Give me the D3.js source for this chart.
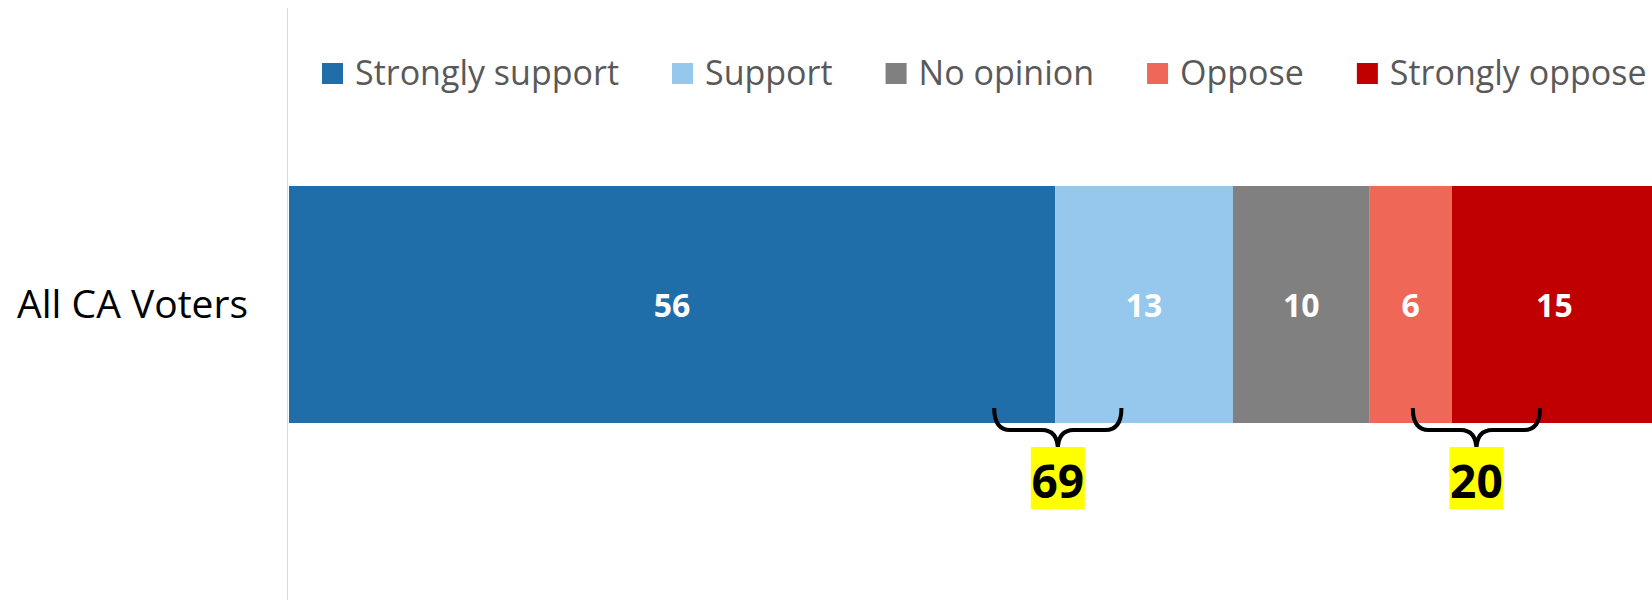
<!DOCTYPE html>
<html>
<head>
<meta charset="utf-8">
<script src="https://cdn.jsdelivr.net/npm/d3@7"></script>
<style>
  html, body { margin: 0; padding: 0; background: #fff; overflow: hidden; }
  svg { display: block; font-family: "Open Sans", sans-serif; }
</style>
</head>
<body>
<svg id="chart"></svg>
<script>
// Data
var categories = ['All CA Voters']
var seriesNames = ['Strongly support', 'Support', 'No opinion', 'Oppose', 'Strongly oppose']
var seriesValues = [56, 13, 10, 6, 15]
var seriesColors = ['#1f6eaa', '#95c8ec', '#808080', '#ef6857', '#c00000']
// Brace annotations: centre on the value axis, label
var braceCenters = [56.2, 86.8]
var braceLabels = ['69', '20']

var WIDTH = 1652
var HEIGHT = 600
var BRACE_HALF = 4.65

var svg = d3.select('#chart')
  .attr('width', WIDTH)
  .attr('height', HEIGHT)

var x = d3.scaleLinear()
  .domain([0, 100])
  .range([289, 1657])

var y = d3.scaleBand()
  .domain(categories)
  .range([186, 423])

// Stack the segments
var rows = [{}]
seriesNames.forEach(function (name, i) { rows[0][name] = seriesValues[i] })
var stack = d3.stack().keys(seriesNames)(rows)

// Vertical category axis line
svg.append('line')
  .attr('x1', 287.5).attr('x2', 287.5)
  .attr('y1', 8).attr('y2', HEIGHT)
  .attr('stroke', '#d9d9d9')
  .attr('stroke-width', 1)

// Category label
svg.selectAll('text.cat')
  .data(categories)
  .enter().append('text')
  .attr('class', 'cat')
  .attr('x', 248)
  .attr('y', function (d) { return y(d) + y.bandwidth() / 2 + 13 })
  .attr('text-anchor', 'end')
  .attr('font-size', 39)
  .attr('fill', '#000')
  .text(function (d) { return d })

// Bars
var seg = svg.append('g').selectAll('g')
  .data(stack)
  .enter().append('g')

seg.append('rect')
  .attr('x', function (d) { return x(d[0][0]) })
  .attr('width', function (d) { return x(d[0][1]) - x(d[0][0]) })
  .attr('y', y(categories[0]))
  .attr('height', y.bandwidth())
  .attr('fill', function (d, i) { return seriesColors[i] })

seg.append('text')
  .attr('x', function (d) { return (x(d[0][0]) + x(d[0][1])) / 2 })
  .attr('y', y(categories[0]) + y.bandwidth() / 2 + 12)
  .attr('text-anchor', 'middle')
  .attr('font-size', 32)
  .attr('font-weight', 'bold')
  .attr('fill', '#fff')
  .text(function (d, i) { return seriesValues[i] })

// Legend
var legend = svg.append('g').attr('class', 'legend')
var lx = 322
seriesNames.forEach(function (name, i) {
  var item = legend.append('g').attr('transform', 'translate(' + lx + ',0)')
  item.append('rect')
    .attr('x', 0).attr('y', 63)
    .attr('width', 21).attr('height', 21)
    .attr('fill', seriesColors[i])
  var t = item.append('text')
    .attr('x', 33).attr('y', 85)
    .attr('font-size', 34)
    .attr('fill', '#595959')
    .text(name)
  lx += 33 + t.node().getComputedTextLength() + 53
})

// Braces with totals
var braceTop = 408
var braceMid = 430
var braceTip = 450
var r = 16

function bracePath (cx) {
  var x0 = x(cx - BRACE_HALF)
  var x1 = x(cx + BRACE_HALF)
  var c = x(cx)
  var p = d3.path()
  p.moveTo(x0, braceTop)
  p.quadraticCurveTo(x0, braceMid, x0 + r, braceMid)
  p.lineTo(c - r, braceMid)
  p.quadraticCurveTo(c, braceMid, c, braceTip)
  p.quadraticCurveTo(c, braceMid, c + r, braceMid)
  p.lineTo(x1 - r, braceMid)
  p.quadraticCurveTo(x1, braceMid, x1, braceTop)
  return p.toString()
}

var ann = svg.append('g').selectAll('g')
  .data(braceCenters)
  .enter().append('g')

ann.append('path')
  .attr('d', function (d) { return bracePath(d) })
  .attr('fill', 'none')
  .attr('stroke', '#000')
  .attr('stroke-width', 4)

ann.append('rect')
  .attr('x', function (d) { return x(d) - 27 })
  .attr('y', 447)
  .attr('width', 54)
  .attr('height', 62)
  .attr('fill', '#ffff00')

ann.append('text')
  .attr('x', function (d) { return x(d) })
  .attr('y', 498)
  .attr('text-anchor', 'middle')
  .attr('font-size', 46)
  .attr('font-weight', 'bold')
  .attr('fill', '#000')
  .text(function (d, i) { return braceLabels[i] })
</script>
</body>
</html>
